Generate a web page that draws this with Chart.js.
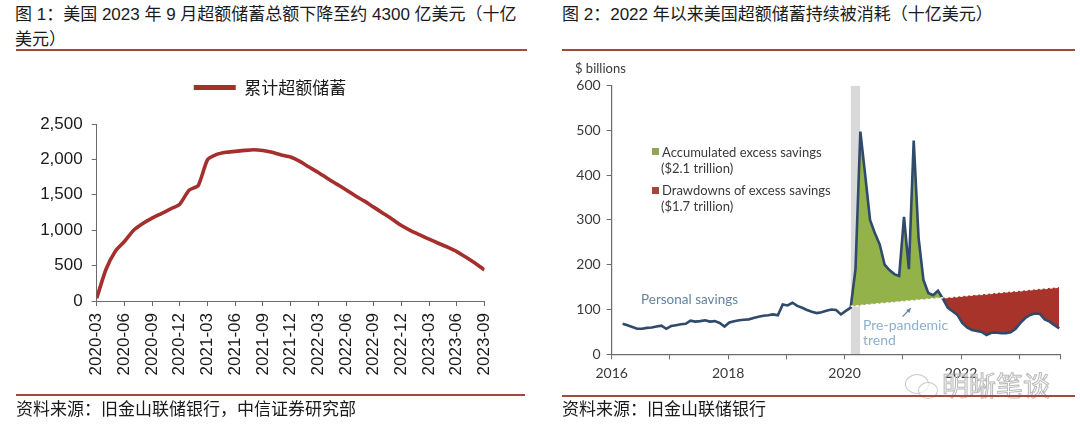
<!DOCTYPE html>
<html>
<head>
<meta charset="utf-8">
<script src="https://cdn.jsdelivr.net/npm/chart.js@4/dist/chart.umd.min.js"></script>
<style>
  html, body { margin:0; padding:0; background:#fff; }
  body { width:1080px; height:434px; position:relative; overflow:hidden;
         font-family:"Liberation Sans","Noto Sans CJK SC",sans-serif; color:#1a1a1a; }
  .abs { position:absolute; }
  .title { font-size:17px; line-height:24.5px; white-space:nowrap; }
  .rule { height:2px; background:#a4483e; }
  .src { font-size:17px; line-height:24px; white-space:nowrap; }
  .ann { font-family:Lato,"Open Sans",sans-serif; font-size:13px; line-height:16px; color:#3a3a3a; white-space:nowrap; }
  .sq { position:absolute; width:7px; height:7px; }
  canvas { position:absolute; }
</style>
</head>
<body>
<div class="abs title" style="left:15px;top:3px;">图 1：美国 2023 年 9 月超额储蓄总额下降至约 4300 亿美元（十亿<br>美元）</div>
<div class="abs rule" style="left:16px;top:49px;width:511px;"></div>
<div class="abs title" style="left:562px;top:3px;">图 2：2022 年以来美国超额储蓄持续被消耗（十亿美元）</div>
<div class="abs rule" style="left:562px;top:49px;width:513px;"></div>

<canvas id="left" width="540" height="340" style="left:0;top:60px;"></canvas>
<canvas id="right" width="520" height="340" style="left:560px;top:60px;"></canvas>

<div class="abs ann" style="left:575px;top:60px;">$ billions</div>
<div class="sq" style="left:652px;top:148px;background:#8fa55a;"></div>
<div class="abs ann" style="left:662px;top:144px;">Accumulated excess savings</div>
<div class="abs ann" style="left:661px;top:160px;">($2.1 trillion)</div>
<div class="sq" style="left:652px;top:187px;background:#a3473c;"></div>
<div class="abs ann" style="left:662px;top:182px;">Drawdowns of excess savings</div>
<div class="abs ann" style="left:661px;top:198px;">($1.7 trillion)</div>
<div class="abs ann" style="left:641px;top:291px;font-size:13.5px;color:#6483a0;">Personal savings</div>
<div class="abs ann" style="left:863px;top:317px;font-size:14px;color:#8db0cc;">Pre-pandemic</div>
<div class="abs ann" style="left:863px;top:332px;font-size:14px;color:#8db0cc;">trend</div>

<div class="abs" style="left:905px;top:374px;width:22px;height:18px;border:1.5px solid #c8c8c8;border-radius:50%;"></div>
<div class="abs" style="left:918px;top:382px;width:18px;height:15px;border:1.5px solid #c8c8c8;border-radius:50%;background:rgba(255,255,255,0.6);"></div>
<div class="abs" style="left:942px;top:370px;font-size:27px;line-height:30px;color:rgba(255,255,255,0.2);-webkit-text-stroke:1px #b8b8b8;font-family:'Noto Sans CJK SC';">明晰笔谈</div>

<div class="abs rule" style="left:16px;top:394px;width:509px;"></div>
<div class="abs rule" style="left:562px;top:395px;width:513px;"></div>
<div class="abs src" style="left:16px;top:398px;">资料来源：旧金山联储银行，中信证券研究部</div>
<div class="abs src" style="left:562px;top:398px;">资料来源：旧金山联储银行</div>

<script>
// ---------- Figure 1 data: cumulative excess savings (USD bn) ----------
const cumMonths = ['2020-03','2020-04','2020-05','2020-06','2020-07','2020-08','2020-09','2020-10','2020-11','2020-12',
  '2021-01','2021-02','2021-03','2021-04','2021-05','2021-06','2021-07','2021-08','2021-09','2021-10','2021-11','2021-12',
  '2022-01','2022-02','2022-03','2022-04','2022-05','2022-06','2022-07','2022-08','2022-09','2022-10','2022-11','2022-12',
  '2023-01','2023-02','2023-03','2023-04','2023-05','2023-06','2023-07','2023-08','2023-09'];
const cumValues = [40, 445, 700, 840, 1000, 1095, 1170, 1235, 1300, 1368,
  1565, 1632, 1995, 2070, 2100, 2113, 2127, 2137, 2127, 2100, 2062, 2033,
  1971, 1892, 1816, 1731, 1651, 1571, 1486, 1411, 1326, 1241, 1156, 1066,
  995, 934, 873, 816, 760, 698, 618, 533, 439];
const cumLabel = '累计超额储蓄';
const cumTickStep = 3;           // quarterly tick labels
const cumYTicks = [0, 500, 1000, 1500, 2000, 2500];

// ---------- Figure 2 data: monthly personal savings (USD bn) ----------
const savingsStart = '2016-03';
const savingsValues = [
  68, 65, 61, 57, 57, 59, 60, 62, 64, 57,                 // 2016 Mar-Dec
  63, 65, 67, 68, 75, 73, 74, 76, 73, 74, 70, 62,         // 2017
  71, 74, 76, 77, 78, 81, 84, 86, 87, 89, 87, 111,        // 2018
  109, 115, 108, 104, 99, 95, 92, 94, 97, 100, 99, 89,    // 2019
  97, 104, 190, 497, 400, 300, 270, 245, 200, 188, 179, 175, // 2020
  307, 190, 477, 260, 166, 137, 132, 142, 124, 104, 96, 88,  // 2021
  70, 60, 54, 52, 50, 43, 48, 49, 47, 47, 49, 57,         // 2022
  70, 81, 88, 91, 90, 78, 73, 65, 58                      // 2023 Jan-Sep
];
const trendMonths = ['2020-02', '2023-09'];
const trendValues = [107, 150];
const recessionMonths = ['2020-02', '2020-04'];
const recessionTop = 600;
const yearTicks = [2016, 2017, 2018, 2019, 2020, 2021, 2022, 2023];
const labeledYears = [2016, 2018, 2020, 2022];
const savingsYTicks = [0, 100, 200, 300, 400, 500, 600];
const trendArrow = { from: ['2021-01', 84], to: ['2021-03', 103] };

// ---------- helpers ----------
const baseYear = 2016;
const midOffset = 0.25; // points sit early in their month on the monthly axis
function monthIndex(s) { const [y, m] = s.split('-').map(Number); return (y - baseYear) * 12 + (m - 1); }
const savStartIdx = monthIndex(savingsStart);
const axisEnd = monthIndex('2023-09') + midOffset + 0.15;

const SANS = '"Liberation Sans", Arial, sans-serif';
const GEO = 'Lato, "Open Sans", sans-serif';

// ---------- Left chart ----------
// extra gap under the legend, and centre it over the whole panel
const legendGap = {
  id: 'legendGap',
  beforeLayout(chart) {
    const lg = chart.legend;
    if (lg && !lg.__patched) {
      const orig = lg.fit.bind(lg);
      lg.fit = function () { orig(); this.height += 18; };
      lg.__patched = true;
    }
  },
  afterLayout(chart) {
    const lg = chart.legend;
    if (lg) { lg.left = chart.width - lg.right; }
  }
};

new Chart(document.getElementById('left'), {
  type: 'line',
  data: {
    datasets: [{
      label: cumLabel,
      data: cumValues.map((v, i) => ({ x: i, y: v })),
      borderColor: '#a52f2c',
      backgroundColor: '#a52f2c',
      borderWidth: 3.6,
      pointRadius: 0,
      tension: 0.2,
      fill: false
    }]
  },
  options: {
    responsive: false, animation: false,
    layout: { padding: { top: 3, left: 0, right: 55.5, bottom: 0 } },
    plugins: {
      tooltip: { enabled: false },
      legend: {
        display: true, position: 'top',
        labels: {
          boxWidth: 42, boxHeight: 5, padding: 16, color: '#1a1a1a',
          font: { size: 17, family: '"Noto Sans CJK SC", sans-serif' },
          generateLabels: (chart) => Chart.defaults.plugins.legend.labels.generateLabels(chart)
            .map(l => Object.assign(l, { lineWidth: 0 }))
        }
      }
    },
    scales: {
      x: {
        type: 'linear', min: 0, max: cumMonths.length - 1,
        ticks: {
          stepSize: cumTickStep, autoSkip: false, maxRotation: 90, minRotation: 90,
          padding: 7, color: '#1a1a1a', font: { size: 17, family: SANS },
          callback: (v) => cumMonths[v]
        },
        grid: { drawOnChartArea: false, tickLength: 5, color: '#6a6a6a' },
        border: { color: '#6a6a6a', width: 1 },
        afterFit: (s) => { s.height = 99; }
      },
      y: {
        type: 'linear', min: cumYTicks[0], max: cumYTicks[cumYTicks.length - 1],
        afterBuildTicks: (s) => { s.ticks = cumYTicks.map(v => ({ value: v })); },
        ticks: {
          padding: 9, color: '#1a1a1a', font: { size: 17, family: SANS },
          callback: (v) => Number(v).toLocaleString('en-US')
        },
        grid: { drawOnChartArea: false, tickLength: 5, color: '#6a6a6a' },
        border: { color: '#6a6a6a', width: 1 },
        afterFit: (s) => { s.width = 96.7; }
      }
    }
  },
  plugins: [legendGap]
});

// ---------- Right chart ----------
const arrowPlugin = {
  id: 'trendArrow',
  afterDatasetsDraw(chart) {
    const { ctx, scales: { x, y } } = chart;
    const x0 = x.getPixelForValue(monthIndex(trendArrow.from[0]) + midOffset - 0.3);
    const y0 = y.getPixelForValue(trendArrow.from[1]);
    const x1 = x.getPixelForValue(monthIndex(trendArrow.to[0]) + midOffset - 0.6);
    const y1 = y.getPixelForValue(trendArrow.to[1]);
    const a = Math.atan2(y1 - y0, x1 - x0);
    ctx.save();
    ctx.strokeStyle = '#5f86a6'; ctx.fillStyle = '#5f86a6'; ctx.lineWidth = 1.3;
    ctx.beginPath(); ctx.moveTo(x0, y0); ctx.lineTo(x1, y1); ctx.stroke();
    ctx.beginPath();
    ctx.moveTo(x1, y1);
    ctx.lineTo(x1 - 5 * Math.cos(a - 0.45), y1 - 5 * Math.sin(a - 0.45));
    ctx.lineTo(x1 - 5 * Math.cos(a + 0.45), y1 - 5 * Math.sin(a + 0.45));
    ctx.closePath(); ctx.fill();
    ctx.restore();
  }
};

const savingsPts = savingsValues.map((v, i) => ({ x: savStartIdx + i + midOffset, y: v }));
const trendPts = trendMonths.map((m, i) => ({ x: monthIndex(m) + midOffset, y: trendValues[i] }));
const recessionPts = recessionMonths.map(m => ({ x: monthIndex(m) + midOffset, y: recessionTop }));

new Chart(document.getElementById('right'), {
  type: 'line',
  data: {
    datasets: [
      { label: 'Pre-pandemic trend', data: trendPts, borderColor: 'rgba(255,255,255,0.95)',
        borderWidth: 1.5, borderDash: [3, 2], pointRadius: 0, fill: false, order: 1 },
      { label: 'Personal savings', data: savingsPts, borderColor: '#2f4a6b', borderWidth: 2.6,
        pointRadius: 0, tension: 0, order: 2,
        fill: { target: 0, above: '#93b24a', below: '#a8332b' } },
      { label: 'Recession', data: recessionPts, borderWidth: 0, borderColor: 'rgba(0,0,0,0)',
        backgroundColor: '#d9d9d9', pointRadius: 0, fill: 'origin', order: 3 }
    ]
  },
  options: {
    responsive: false, animation: false,
    layout: { padding: { top: 25.5, left: 0, right: 20, bottom: 0 } },
    plugins: { legend: { display: false }, tooltip: { enabled: false } },
    scales: {
      x: {
        type: 'linear', min: 0, max: axisEnd,
        afterBuildTicks: (s) => {
          s.ticks = yearTicks.map(yr => ({ value: (yr - baseYear) * 12 })).concat([{ value: axisEnd }]);
        },
        ticks: {
          autoSkip: false, maxRotation: 0, padding: 6, color: '#3a3a3a',
          font: { size: 14, family: GEO },
          callback: (v) => {
            const yr = baseYear + v / 12;
            return labeledYears.includes(yr) ? String(yr) : '';
          }
        },
        grid: { drawOnChartArea: false, tickLength: 5, color: '#6b6b6b' },
        border: { color: '#6b6b6b', width: 1.2 },
        afterFit: (s) => { s.height = 45.7; }
      },
      y: {
        type: 'linear', min: 0, max: 600,
        afterBuildTicks: (s) => { s.ticks = savingsYTicks.map(v => ({ value: v })); },
        ticks: { padding: 6, color: '#3a3a3a', font: { size: 14, family: GEO } },
        grid: { drawOnChartArea: false, tickLength: 5, color: '#6b6b6b' },
        border: { color: '#6b6b6b', width: 1.2 },
        afterFit: (s) => { s.width = 51.7; }
      }
    }
  },
  plugins: [arrowPlugin]
});
</script>
</body>
</html>
